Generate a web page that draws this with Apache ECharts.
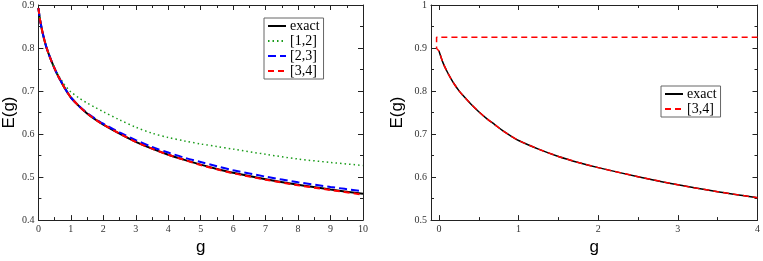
<!DOCTYPE html>
<html>
<head>
<meta charset="utf-8">
<script src="https://cdn.jsdelivr.net/npm/echarts@6/dist/echarts.min.js"></script>
<style>
html,body{margin:0;padding:0;background:#fff;}
#chart{width:763px;height:261px;}
</style>
</head>
<body>
<div id="chart"></div>
<script>
// ---- data ----
const gValues = [0, 0.05, 0.1, 0.15, 0.2, 0.25, 0.3, 0.4, 0.5, 0.6, 0.7, 0.8, 0.9, 1, 1.25, 1.5, 1.75, 2, 2.5, 3, 3.5, 4, 4.5, 5, 5.5, 6, 7, 8, 9, 10];
const exactE  = [0.893, 0.866, 0.846, 0.829, 0.814, 0.801, 0.790, 0.770, 0.752, 0.736, 0.722, 0.708, 0.696, 0.685, 0.665, 0.648, 0.634, 0.622, 0.601, 0.582, 0.566, 0.552, 0.540, 0.529, 0.519, 0.510, 0.495, 0.482, 0.471, 0.461];
const pade12E = [0.893, 0.866, 0.846, 0.829, 0.814, 0.801, 0.790, 0.770, 0.753, 0.739, 0.726, 0.715, 0.706, 0.698, 0.684, 0.672, 0.662, 0.652, 0.633, 0.616, 0.602, 0.592, 0.584, 0.577, 0.571, 0.565, 0.553, 0.542, 0.534, 0.527];
const pade23E = [0.893, 0.866, 0.846, 0.829, 0.814, 0.801, 0.790, 0.770, 0.752, 0.736, 0.722, 0.708, 0.696, 0.685, 0.665, 0.649, 0.636, 0.624, 0.604, 0.586, 0.570, 0.557, 0.545, 0.535, 0.525, 0.516, 0.501, 0.488, 0.477, 0.467];
const pade34E = [0.893, 0.866, 0.846, 0.829, 0.814, 0.801, 0.790, 0.770, 0.752, 0.736, 0.722, 0.708, 0.696, 0.685, 0.665, 0.648, 0.634, 0.622, 0.601, 0.582, 0.566, 0.552, 0.540, 0.528, 0.518, 0.509, 0.494, 0.481, 0.470, 0.459];
// right panel: [3,4] extra branch (pole branch)
const pade34BranchG = [4, -0.03, -0.03];
const pade34BranchE = [0.925, 0.925, 0.900];
const rightMaxG = 4;

// tick labels
const leftXTicks = [0,1,2,3,4,5,6,7,8,9,10];
const leftYTicks = [0.4,0.5,0.6,0.7,0.8,0.9];
const rightXTicks = [0,1,2,3,4];
const rightXMinorTicks = [0.5,1.5,2.5,3.5];
const rightYTicks = [0.5,0.6,0.7,0.8,0.9,1];

const legendLeft = ['exact','[1,2]','[2,3]','[3,4]'];
const legendRight = ['exact','[3,4]'];

function pairs(xs, ys){ return xs.map((x,i)=>[x, ys[i]]); }
const rightG = gValues.filter(g => g <= rightMaxG);
const rightExact = pairs(rightG, exactE.slice(0, rightG.length));
const rightPade = pairs(pade34BranchG, pade34BranchE).concat(pairs(rightG, exactE.slice(0, rightG.length)));

const serif = 'Liberation Serif';
const sans = 'Liberation Sans';
const axCol = '#222';
const labCol = '#333';

function xAx(grid, pos, min, max, opts){
  return Object.assign({
    type:'value', gridIndex:grid, position:pos, min:min, max:max,
    axisLine:{show:true, onZero:false, lineStyle:{color:axCol, width:1}},
    axisTick:{show:true, inside:true, length:5, lineStyle:{color:axCol}},
    minorTick:{show:false},
    splitLine:{show:false},
    axisLabel:{show:false}
  }, opts||{});
}

const legendBase = {
  orient:'vertical',
  itemWidth:18, itemHeight:14, itemGap:1,
  padding:[1,4,1,3], borderColor:'#666', borderWidth:1,
  itemStyle:{opacity:0, borderWidth:0},
  textStyle:{fontFamily:serif, fontSize:14, color:'#000', padding:[0,0,0,-1]},
  selectedMode:false
};

const chart = echarts.init(document.getElementById('chart'), null, {renderer:'canvas'});
const option = {
  animation:false,
  grid:[
    {left:33, top:5, width:330, height:229},
    {left:431, top:5, width:329, height:229}
  ],
  xAxis:[
    xAx(0,'bottom',leftXTicks[0],leftXTicks[leftXTicks.length-1],{
      interval:1,
      minorTick:{show:true, splitNumber:2, length:3, lineStyle:{color:axCol}},
      axisLabel:{show:true, margin:4, color:labCol, fontFamily:serif, fontSize:10},
      name:'g', nameLocation:'middle', nameGap:18,
      nameTextStyle:{fontFamily:sans, fontSize:17, color:'#000'}
    }),
    xAx(0,'top',leftXTicks[0],leftXTicks[leftXTicks.length-1],{
      interval:1,
      minorTick:{show:true, splitNumber:2, length:3, lineStyle:{color:axCol}}
    }),
    xAx(1,'bottom',-0.1,rightXTicks[rightXTicks.length-1],{
      axisTick:{show:true, inside:true, length:5, customValues:rightXTicks, lineStyle:{color:axCol}},
      axisLabel:{show:true, customValues:rightXTicks, margin:4, color:labCol, fontFamily:serif, fontSize:10},
      name:'g', nameLocation:'middle', nameGap:18,
      nameTextStyle:{fontFamily:sans, fontSize:17, color:'#000'}
    }),
    xAx(1,'top',-0.1,rightXTicks[rightXTicks.length-1],{
      axisTick:{show:true, inside:true, length:5, customValues:rightXTicks, lineStyle:{color:axCol}}
    }),
    xAx(1,'bottom',-0.1,rightXTicks[rightXTicks.length-1],{
      axisLine:{show:false},
      axisTick:{show:true, inside:true, length:3, customValues:rightXMinorTicks, lineStyle:{color:axCol}}
    }),
    xAx(1,'top',-0.1,rightXTicks[rightXTicks.length-1],{
      axisLine:{show:false},
      axisTick:{show:true, inside:true, length:3, customValues:rightXMinorTicks, lineStyle:{color:axCol}}
    })
  ],
  yAxis:[
    xAx(0,'left',leftYTicks[0],leftYTicks[leftYTicks.length-1],{
      interval:0.1,
      minorTick:{show:true, splitNumber:2, length:3, lineStyle:{color:axCol}},
      axisLabel:{show:true, margin:4, color:labCol, fontFamily:serif, fontSize:10},
      name:'E(g)', nameLocation:'middle', nameGap:14, nameRotate:90,
      nameTextStyle:{fontFamily:sans, fontSize:17, color:'#000'}
    }),
    xAx(0,'right',leftYTicks[0],leftYTicks[leftYTicks.length-1],{
      interval:0.1,
      minorTick:{show:true, splitNumber:2, length:3, lineStyle:{color:axCol}}
    }),
    xAx(1,'left',rightYTicks[0],rightYTicks[rightYTicks.length-1],{
      interval:0.1,
      minorTick:{show:true, splitNumber:2, length:3, lineStyle:{color:axCol}},
      axisLabel:{show:true, margin:4, color:labCol, fontFamily:serif, fontSize:10},
      name:'E(g)', nameLocation:'middle', nameGap:25, nameRotate:90,
      nameTextStyle:{fontFamily:sans, fontSize:17, color:'#000'}
    }),
    xAx(1,'right',rightYTicks[0],rightYTicks[rightYTicks.length-1],{
      interval:0.1,
      minorTick:{show:true, splitNumber:2, length:3, lineStyle:{color:axCol}}
    })
  ],
  legend:[
    Object.assign({}, legendBase, {data:legendLeft, left:264, top:18}),
    Object.assign({}, legendBase, {data:legendRight, left:661, top:86})
  ],
  series:[
    {name:'exact', type:'line', xAxisIndex:0, yAxisIndex:0, data:pairs(gValues, exactE),
      symbol:'none', smooth:0.3, lineStyle:{color:'#000', width:2}, itemStyle:{color:'#000'}},
    {name:'[1,2]', type:'line', xAxisIndex:0, yAxisIndex:0, data:pairs(gValues, pade12E),
      symbol:'none', smooth:0.3, lineStyle:{color:'#1a9c1a', width:1.5, type:[1.5,3]}, itemStyle:{color:'#1a9c1a'}},
    {name:'[2,3]', type:'line', xAxisIndex:0, yAxisIndex:0, data:pairs(gValues, pade23E),
      symbol:'none', smooth:0.3, lineStyle:{color:'#0000ff', width:2, type:[8,4]}, itemStyle:{color:'#0000ff'}},
    {name:'[3,4]', type:'line', xAxisIndex:0, yAxisIndex:0, data:pairs(gValues, pade34E),
      symbol:'none', smooth:0.3, lineStyle:{color:'#ff0000', width:2, type:[6,4]}, itemStyle:{color:'#ff0000'}},
    {name:'exact', type:'line', xAxisIndex:2, yAxisIndex:2, data:rightExact,
      symbol:'none', smooth:0.3, lineStyle:{color:'#000', width:1.5}, itemStyle:{color:'#000'}},
    {name:'[3,4]', type:'line', xAxisIndex:2, yAxisIndex:2, data:rightPade,
      symbol:'none', smooth:0.3, clip:false, lineStyle:{color:'#ff0000', width:1.5, type:[6,4]}, itemStyle:{color:'#ff0000'}}
  ]
};
chart.setOption(option);
</script>
</body>
</html>
